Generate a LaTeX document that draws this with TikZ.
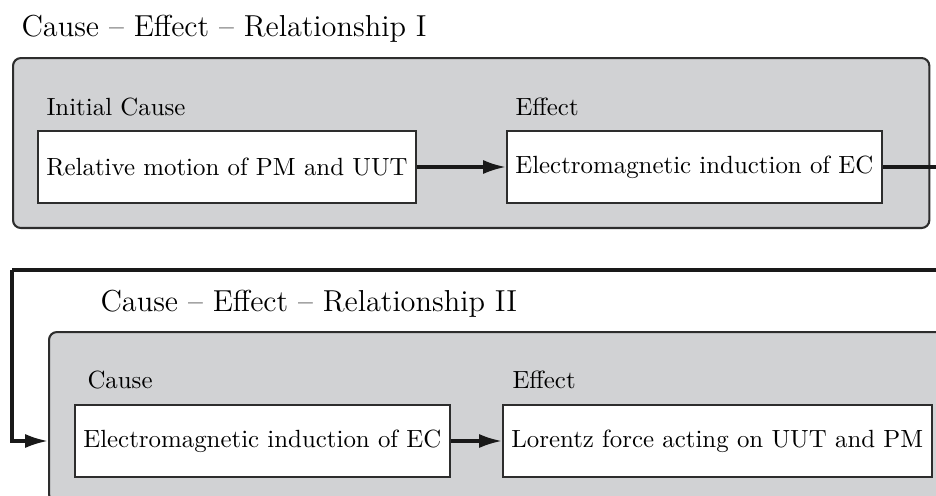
\documentclass[tikz,border=0pt]{standalone}
\usepackage{tikz}
\usetikzlibrary{arrows.meta}
\definecolor{panelgray}{RGB}{209,210,212}
\definecolor{edgegray}{RGB}{45,45,45}

\begin{document}
\begin{tikzpicture}[x=0.386pt,y=-0.386pt,
    every node/.style={font=\fontsize{9.6pt}{11pt}\selectfont}]
    \tikzset{panel/.style={draw=edgegray, line width=0.8pt, fill=panelgray,
        rounded corners=3pt, anchor=north west, inner sep=0pt}}
    \tikzset{stagebox/.style={draw=edgegray, line width=0.6pt, fill=white,
        anchor=west, inner xsep=3.3pt, minimum height=27.8pt}}
    \tikzset{caption/.style={anchor=base west, inner sep=0pt}}
    \tikzset{heading/.style={caption, font=\fontsize{11.7pt}{14pt}\selectfont}}
    \tikzset{flow/.style={line width=1.2pt, draw=black!90,
        -{Latex[length=8.8pt,width=5.4pt]}}}
    \useasboundingbox (0,0) rectangle (936,495);
    \clip (0,0) rectangle (936,495);
    % first relationship
    \node[heading] (titleI) at (21,36) {Cause -- Effect -- Relationship I};
    \node[panel, minimum width=353.7pt, minimum height=65.6pt] (panelI) at (12,57) {};
    \node[stagebox] (motion) at (37,167) {Relative motion of PM and UUT};
    \node[stagebox] (inductI) at (506,167) {Electromagnetic induction of EC};
    \node[caption] (causeI) at (46,115) {Initial Cause};
    \node[caption] (effectI) at (515,115) {Effect};
    \draw[flow] (motion) -- (inductI);
    % second relationship
    \node[heading] (titleII) at (100,311) {Cause -- Effect -- Relationship II};
    \node[panel, minimum width=353.7pt, minimum height=65.6pt] (panelII) at (48,331) {};
    \node[stagebox] (inductII) at (74,441) {Electromagnetic induction of EC};
    \node[stagebox] (lorentz) at (502,441) {Lorentz force acting on UUT and PM};
    \node[caption] (causeII) at (87,388) {Cause};
    \node[caption] (effectII) at (512,388) {Effect};
    \draw[flow] (inductII) -- (lorentz);
    % link between the two
    \coordinate (turnR) at (960,270);
    \coordinate (turnL) at (12,270);
    \draw[flow, -] (inductI.east) -| (turnR) -- (turnL);
    \draw[flow] (turnL) |- (inductII.west -| panelII.west);
\end{tikzpicture}
\end{document}
